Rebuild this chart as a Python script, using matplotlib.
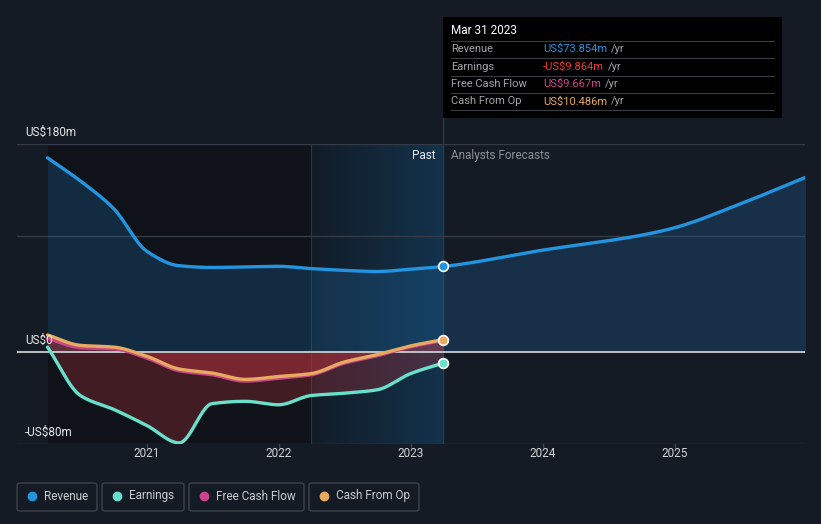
import numpy as np
import pandas as pd
import matplotlib
matplotlib.use('Agg')
import matplotlib.pyplot as plt
from matplotlib.patches import FancyBboxPatch, Rectangle
from matplotlib.lines import Line2D

plt.rcParams['font.family'] = ['Roboto', 'DejaVu Sans']

# past data (trailing twelve months, US$m)
past_dates = ['2020-03-31', '2020-06-30', '2020-09-30', '2020-12-31', '2021-03-31',
              '2021-06-30', '2021-09-30', '2021-12-31', '2022-03-31', '2022-06-30',
              '2022-09-30', '2022-12-31', '2023-03-31']
revenue = [168, 148, 124, 87, 74.5, 73, 73.5, 74, 72, 70.5, 69.5, 71.5, 73.854]
earnings = [4, -38, -50, -64, -79, -45, -43, -46, -38, -36, -33, -19, -9.864]
free_cash_flow = [11.5, 3.5, 2.5, -5.5, -16.5, -20, -25.5, -23, -20, -10, -3.5, 4.2, 9.667]
cash_from_op = [14.5, 5.5, 4, -4, -15, -18.5, -24, -21.5, -19, -9, -2.5, 5, 10.486]

# analyst forecasts
fc_dates = ['2023-03-31', '2023-12-31', '2024-09-30', '2024-12-31', '2025-06-30', '2025-12-31']
fc_revenue = [73.854, 88, 101, 107.5, 128, 151.5]

year_ticks = [2021, 2022, 2023, 2024, 2025]
y_labels = [(180, 'US$180m'), (0, 'US$0'), (-80, '-US$80m')]


def dec_year(dates):
    d = pd.to_datetime(dates)
    return np.array(d.year + (d.dayofyear - 1) / 365.25)


def smooth(x, y, n=400):
    # monotone cubic curve through the points, for drawing only
    x = np.asarray(x, float); y = np.asarray(y, float)
    h = np.diff(x); d = np.diff(y) / h
    m = np.zeros_like(y)
    m[0], m[-1] = d[0], d[-1]
    for k in range(1, len(x) - 1):
        if d[k - 1] * d[k] > 0:
            w1 = 2 * h[k] + h[k - 1]; w2 = h[k] + 2 * h[k - 1]
            m[k] = (w1 + w2) / (w1 / d[k - 1] + w2 / d[k])
    xs = np.linspace(x[0], x[-1], n)
    i = np.clip(np.searchsorted(x, xs) - 1, 0, len(x) - 2)
    t = (xs - x[i]) / h[i]
    ys = ((2 * t**3 - 3 * t**2 + 1) * y[i] + (t**3 - 2 * t**2 + t) * h[i] * m[i]
          + (-2 * t**3 + 3 * t**2) * y[i + 1] + (t**3 - t**2) * h[i] * m[i + 1])
    return xs, ys


W, H = 821, 524
BG = '#151b25'
C_REV, C_EARN, C_FCF, C_CFO = '#2394df', '#67e0cc', '#c9458c', '#e8aa5f'

fig = plt.figure(figsize=(W / 100, H / 100), dpi=100, facecolor=BG)


def fx(px):
    return px / W


def fy(py):
    return 1 - py / H


ax = fig.add_axes([fx(17), fy(444), fx(805) - fx(17), fy(144) - fy(444)])
ax.set_facecolor('none')
x0 = 2021 - 130 / 132
x1 = 2025 + 130 / 132
ax.set_xlim(x0, x1)
ax.set_ylim(-80, 180)
for s in ax.spines.values():
    s.set_visible(False)
ax.set_xticks([]); ax.set_yticks([])

xp = dec_year(past_dates)
xf = dec_year(fc_dates)
now = xp[-1]
band_start = dec_year(['2022-03-31'])[0]

# dark past region and highlighted last year
ax.axvspan(xp[0], band_start, color='#0e1116', alpha=0.75, lw=0, zorder=0)
grad = np.linspace(0, 1, 100).reshape(1, -1)
cmap = matplotlib.colors.LinearSegmentedColormap.from_list('b', ['#121c27', '#13324c'])
ax.imshow(grad, extent=[band_start, now, -80, 180], aspect='auto', cmap=cmap, zorder=0.5)
ax.axvline(band_start, color='#24384a', lw=0.8, zorder=0.6)
ax.axvline(now, color='#2a3a4c', lw=1, zorder=0.7)

# grid
for v in [180, 100, -80]:
    ax.axhline(v, color='#343b46', lw=1, zorder=1)

# revenue
rx, ry = smooth(np.r_[xp, xf[1:]], np.r_[revenue, fc_revenue[1:]], 800)
ax.fill_between(rx, ry, 0, color='#1f6aa6', alpha=0.28, lw=0, zorder=2)

# negative fills
ex, ey = smooth(xp, earnings)
fcx, fcy = smooth(xp, free_cash_flow)
cx, cy = smooth(xp, cash_from_op)
ax.fill_between(ex, ey, 0, color='#b8323d', alpha=0.3, lw=0, zorder=2)
ax.fill_between(cx, cy, 0, color='#c0343d', alpha=0.45, lw=0, zorder=2)

ax.axhline(0, color='#c9ccd0', lw=1.3, zorder=3)

ax.plot(rx, ry, color=C_REV, lw=2.4, zorder=4, solid_capstyle='round')
ax.plot(ex, ey, color=C_EARN, lw=2.4, zorder=4, solid_capstyle='round')
ax.plot(fcx, fcy, color=C_FCF, lw=2.4, zorder=4, solid_capstyle='round')
ax.plot(cx, cy, color=C_CFO, lw=2.4, zorder=5, solid_capstyle='round')

for val, col in [(revenue[-1], C_REV), (earnings[-1], C_EARN), (cash_from_op[-1], C_CFO)]:
    ax.plot([now], [val], 'o', ms=7, mfc=col, mec='white', mew=1.2, zorder=6, clip_on=False)

# x ticks
for yr in year_ticks:
    ax.plot([yr, yr], [-80, -83], color='#3c434e', lw=1, clip_on=False)
    ax.text(yr, -88, str(yr), color='#d4d6d9', fontsize=8.5, ha='center', va='center')

# y labels
for v, s in y_labels:
    fig.text(fx(25), fy(352 - v * 208 / 180 - 12), s, color='#e6e8ea', fontsize=8.5,
             ha='left', va='center')

fig.text(fx(435), fy(156), 'Past', color='#e6e8ea', fontsize=8.5, ha='right', va='center')
fig.text(fx(451), fy(156), 'Analysts Forecasts', color='#8b9099', fontsize=8.5,
         ha='left', va='center')

# tooltip
fig.add_artist(Line2D([fx(443), fx(443)], [fy(118), fy(144)], color='#2a3a4c', lw=1))
fig.add_artist(Rectangle((fx(443), fy(118)), fx(782) - fx(443), fy(17) - fy(118),
                         transform=fig.transFigure, color='#000000', lw=0))
fig.text(fx(451), fy(31), 'Mar 31 2023', color='white', fontsize=8.5, va='center')
rows = [('Revenue', 'US$73.854m', C_REV), ('Earnings', '-US$9.864m', '#f0393f'),
        ('Free Cash Flow', 'US$9.667m', '#d0458d'), ('Cash From Op', 'US$10.486m', C_CFO)]
for k, (lab, val, col) in enumerate(rows):
    yy = 49 + k * 17.5
    fig.add_artist(Line2D([fx(451), fx(774)], [fy(yy - 8.5)] * 2, color='#3a3d42', lw=0.8))
    fig.text(fx(451), fy(yy), lab, color='#a3a6aa', fontsize=8, va='center')
    t = fig.text(fx(543), fy(yy), val, color=col, fontsize=8, va='center')
    fig.canvas.draw()
    bb = t.get_window_extent()
    fig.text((bb.x1 + 4) / W, fy(yy), '/yr', color='#a3a6aa', fontsize=8, va='center')
fig.add_artist(Line2D([fx(451), fx(774)], [fy(110)] * 2, color='#3a3d42', lw=0.8))

# legend
legend = [('Revenue', C_REV, 17, 97), ('Earnings', C_EARN, 102, 184),
          ('Free Cash Flow', C_FCF, 189, 304), ('Cash From Op', C_CFO, 309, 419)]
for lab, col, l, r in legend:
    fig.add_artist(FancyBboxPatch((fx(l), fy(511)), fx(r) - fx(l), fy(483) - fy(511),
                                  boxstyle='round,pad=0,rounding_size=0.004',
                                  transform=fig.transFigure, fc='none', ec='#3b424d', lw=1))
    fig.add_artist(Line2D([fx(l + 15)], [fy(496)], marker='o', ms=6, color=col, lw=0))
    fig.text(fx(l + 27), fy(496), lab, color='#c9ccd0', fontsize=8.5, va='center')

fig.savefig('out.png', dpi=100, facecolor=BG)
